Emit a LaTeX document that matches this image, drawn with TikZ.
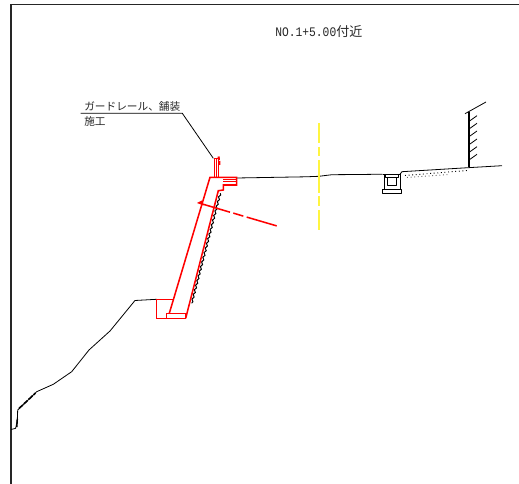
\documentclass[tikz,border=0pt]{standalone}
\usepackage{fontspec}
\setmainfont{Noto Sans CJK JP}
\newfontfamily\latinmono[FakeStretch=0.865]{Liberation Mono}
\usetikzlibrary{decorations.pathmorphing}
\tikzset{
  ink/.style={draw=black,line width=0.6pt,line join=round},
  framing/.style={draw=black!85,line width=1.15pt},
  redline/.style={draw=red,line width=1.15pt,line join=miter},
  redthin/.style={draw=red,line width=0.8pt},
  centre/.style={draw=yellow!75!white,line width=1.1pt},
  label/.style={inner sep=0pt,anchor=base west,text=black!85}
}
\begin{document}
\begin{tikzpicture}[x=0.75pt,y=-0.75pt]
\useasboundingbox (0,0) rectangle (519,484);
% sheet frame
\draw[framing] (11,484) -- (11,4.5) -- (519,4.5);
% title
\node[label,font=\fontsize{9.8pt}{11pt}\selectfont] (title) at (275,37) {{\latinmono NO.1+5.00}付近};
% ground, left part
\draw[ink] (11,429.5) -- (15.7,428.3) -- (17.3,420) -- (17.7,410) -- (36.7,391.7) -- (53.3,384.3) -- (71.7,371.7) -- (89,350) -- (110,331) -- (135,300.5) -- (156.7,299.3);
\draw[ink,line width=1.1pt] (16.8,427) -- (17.3,419);
\draw[ink,line width=1.2pt,dash pattern=on 4pt off 1pt] (19,408.5) -- (35.5,393);
% ground, right part
\draw[ink] (236.7,178) -- (306,176.8) -- (319,176.3) -- (332,174.7) -- (360,174.5) -- (382.5,174.2);
\draw[ink] (400,174.2) -- (402,171.7) -- (468,167.7) -- (502,165.7);
\draw[black,line width=0.7pt,dotted] (405,175.5) -- (467,170.5);
\draw[black!60,line width=0.7pt,dotted] (407,177.5) -- (450,174.5);
% retaining wall on the cut side
\draw[ink,line width=0.8pt] (469,112) -- (469,167.5);
\draw[ink] (465,113.7) -- (486,102);
\foreach \yy in {120.7,128.3,136,144,151.7,159.3}
  \draw[ink] (470,\yy) -- (477,\yy-5);
% culvert
\draw[ink] (382.5,174.2) -- (400,174.2);
\draw[ink] (384,174.2) -- (384,189.3) (400,174.2) -- (400,189.3);
\draw[ink] (382.3,189.3) rectangle (401.7,193.7);
\draw[ink] (385.7,174.2) -- (385.7,177.3) -- (398.3,177.3) -- (398.3,174.2);
\draw[ink] (387.3,177.3) -- (387.3,185.7) -- (396.7,185.7) -- (396.7,177.3);
% wavy back line
\draw[draw=black,line width=0.75pt,decorate,decoration={snake,amplitude=0.6pt,segment length=3.6pt}] (220.3,193.3) -- (191.7,303.3);
% centre line
\draw[centre] (319,123) -- (319,143) (319,147) -- (319,156) (319,160) -- (319,193) (319,196) -- (319,206) (319,210) -- (319,230);
% red wall
\draw[redline] (169.3,313.3) -- (210,177.3) -- (236.7,177.3) -- (236.7,185) -- (223.3,185) -- (223.3,190) -- (218.3,190.7) -- (185.7,318.3);
\draw[redline] (166.7,313.3) rectangle (185.7,318.3);
\draw[redline] (172.7,299.3) -- (156.7,299.3) -- (156.7,318.3) -- (166.7,318.3);
\draw[redthin] (223.3,179.5) -- (236.7,179.5) (223.3,181.8) -- (236.7,181.8);
% guard rail post
\draw[redline] (214.3,177.3) -- (214.3,158.5) -- (218.3,158.5) -- (218.3,177.3);
\draw[redthin] (216.3,158.5) -- (216.3,177.3);
\draw[draw=red,line width=1.5pt] (218.6,156.5) -- (219,160) (219.3,161) -- (219.5,165);
% red section line
\fill[red] (197,203) -- (202,200.5) -- (203.5,205.5) -- cycle;
\draw[redline] (203,204.2) -- (230,212.2) (233.3,213.1) -- (243.3,216.1) (246.7,217.1) -- (276.7,225.9);
% leader and its text
\coordinate (leadstart) at (80.7,113.3);
\coordinate (leadknee) at (182.3,113.3);
\coordinate (leadend) at (213.3,158.3);
\draw[ink] (leadstart) -- (leadknee) -- (leadend);
\node[label,font=\fontsize{8pt}{9pt}\selectfont] (upper) at (84,110.3) {ガードレール、舗装};
\node[label,font=\fontsize{8pt}{9pt}\selectfont] (lower) at (84,125.5) {施工};
\end{tikzpicture}
\end{document}
